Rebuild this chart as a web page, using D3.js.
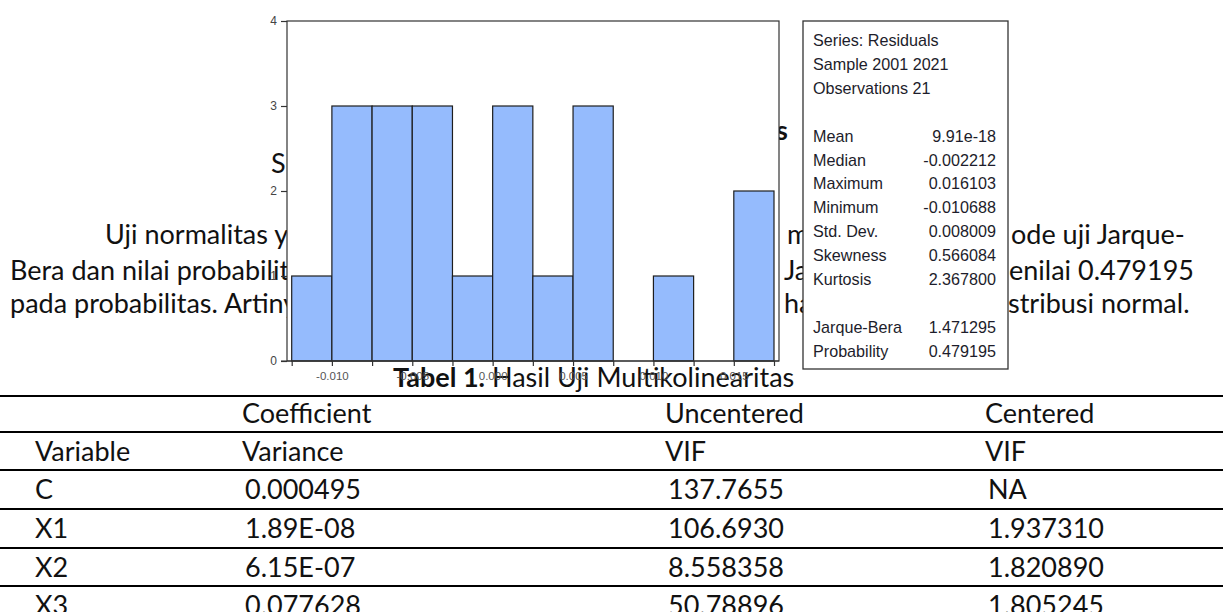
<!DOCTYPE html>
<html>
<head>
<meta charset="utf-8">
<script src="https://cdn.jsdelivr.net/npm/d3@7"></script>
<style>
  html, body { margin: 0; padding: 0; background: #fff; }
  svg { display: block; }
</style>
</head>
<body>
<svg id="page" width="1223" height="612"></svg>
<script>
// ---- histogram of residuals ----
const binLower = [-0.0125, -0.0100, -0.0075, -0.0050, -0.0025, 0.0000, 0.0025, 0.0050, 0.0075, 0.0100, 0.0125, 0.0150];
const binWidth = 0.0025;
const binCounts = [1, 3, 3, 3, 1, 3, 1, 3, 0, 1, 0, 2];
const xEdgeTicks = [-0.0125, -0.0100, -0.0075, -0.0050, -0.0025, 0.0000, 0.0025, 0.0050, 0.0075, 0.0100, 0.0125, 0.0150, 0.0175];
const xLabelTicks = [-0.010, -0.005, 0.000, 0.005, 0.010, 0.015];
const yTicks = [0, 1, 2, 3, 4];

// ---- descriptive statistics panel ----
const statNames = ["Series: Residuals", "Sample 2001 2021", "Observations 21", "",
  "Mean", "Median", "Maximum", "Minimum", "Std. Dev.", "Skewness", "Kurtosis", "",
  "Jarque-Bera", "Probability"];
const statValues = ["", "", "", "",
  "9.91e-18", "-0.002212", "0.016103", "-0.010688", "0.008009", "0.566084", "2.367800", "",
  "1.471295", "0.479195"];

// ---- multicollinearity table ----
const headRow1 = ["", "Coefficient", "Uncentered", "Centered"];
const headRow2 = ["Variable", "Variance", "VIF", "VIF"];
const variables = ["C", "X1", "X2", "X3"];
const coefVariance = ["0.000495", "1.89E-08", "6.15E-07", "0.077628"];
const uncenteredVIF = ["137.7655", "106.6930", "8.558358", "50.78896"];
const centeredVIF = ["NA", "1.937310", "1.820890", "1.805245"];

const svg = d3.select("#page");
const docFont = "Lato, 'Open Sans', sans-serif";
const docSize = 27;

// ---- body text of the page (lies underneath the pasted chart) ----
const textLayer = svg.append("g").attr("font-family", docFont).attr("font-size", docSize).attr("fill", "#111");
const fragments = [
  { t: "Hasil Uji Normalitas", x: 788, y: 140, a: "end", w: "bold" },
  { t: "Sumber: Output EViews", x: 271, y: 173, a: "start" },
  { t: "Uji normalitas yang dilakukan", x: 105, y: 244, a: "start" },
  { t: "menggunakan", x: 787, y: 244, a: "start" },
  { t: "ode uji Jarque-", x: 1011, y: 244, a: "start" },
  { t: "Bera dan nilai probabilitas", x: 10, y: 280, a: "start" },
  { t: "Jarque", x: 784, y: 280, a: "start" },
  { t: "enilai 0.479195", x: 1009, y: 280, a: "start" },
  { t: "pada probabilitas. Artinya", x: 10, y: 313, a: "start" },
  { t: "hal ini", x: 784, y: 313, a: "start" },
  { t: "stribusi normal.", x: 1008, y: 313, a: "start" }
];
textLayer.selectAll("text").data(fragments).join("text")
  .attr("x", d => d.x).attr("y", d => d.y)
  .attr("text-anchor", d => d.a)
  .attr("font-weight", d => d.w || "normal")
  .text(d => d.t);

// caption
const cap = svg.append("text").attr("x", 393).attr("y", 387)
  .attr("font-family", docFont).attr("font-size", docSize).attr("fill", "#111");
cap.append("tspan").attr("font-weight", "bold").text("Tabel 1.");
cap.append("tspan").text(" Hasil Uji Multikolinearitas");

// ---- table ----
const tableRows = [headRow1, headRow2].concat(variables.map((v, i) => [v, coefVariance[i], uncenteredVIF[i], centeredVIF[i]]));
const rowY = d3.scaleLinear().domain([0, 1]).range([423, 461]);
const ruleY = [396, 432, 470, 509, 548, 586];
const colX = [35, 242, 665, 985];
const valueShift = [0, 3, 3, 3];

svg.append("g").selectAll("line").data(ruleY).join("line")
  .attr("x1", 0).attr("x2", 1223)
  .attr("y1", d => d).attr("y2", d => d)
  .attr("stroke", "#000").attr("stroke-width", 2);

const rowsG = svg.append("g").attr("font-family", docFont).attr("font-size", docSize).attr("fill", "#111");
tableRows.forEach((row, r) => {
  rowsG.selectAll(null).data(row).join("text")
    .attr("x", (d, c) => colX[c] + (r >= 2 ? valueShift[c] : 0))
    .attr("y", rowY(r) + (r >= 2 ? r - 2 : 0) * 0.8)
    .text(d => d);
});

// ---- the EViews histogram (transparent outside the plot area) ----
const x = d3.scaleLinear().domain([-0.0125, 0.0175]).range([291.7, 774]);
const y = d3.scaleLinear().domain([0, 4]).range([361, 21]);
const plotL = 287, plotR = 779, plotT = 21, plotB = 361;

const chart = svg.append("g");
chart.append("rect").attr("x", plotL).attr("y", plotT)
  .attr("width", plotR - plotL).attr("height", plotB - plotT).attr("fill", "#fff");

chart.append("g").selectAll("rect").data(binLower).join("rect")
  .attr("x", d => x(d))
  .attr("width", d => x(d + binWidth) - x(d))
  .attr("y", (d, i) => y(binCounts[i]))
  .attr("height", (d, i) => y(0) - y(binCounts[i]))
  .attr("fill", "#95bbfd")
  .attr("stroke", "#1e1e1e").attr("stroke-width", 1.2)
  .style("display", (d, i) => binCounts[i] > 0 ? null : "none");

// frame
chart.append("rect").attr("x", plotL).attr("y", plotT)
  .attr("width", plotR - plotL).attr("height", plotB - plotT)
  .attr("fill", "none").attr("stroke", "#333").attr("stroke-width", 1.2);

const fmt = d3.formatLocale({ decimal: ".", thousands: ",", grouping: [3], currency: ["", ""], minus: "-" }).format(".3f");

// y axis
const yAxis = d3.axisLeft(y).tickValues(yTicks).tickSize(6).tickPadding(4).tickFormat(d3.format("d"));
chart.append("g").attr("transform", `translate(${plotL},0)`).call(yAxis)
  .call(g => g.select(".domain").remove())
  .call(g => g.selectAll("line").attr("stroke", "#333").attr("stroke-width", 1.2))
  .call(g => g.selectAll("text").attr("font-family", "'Liberation Sans', Arial, sans-serif")
    .attr("font-size", 12).attr("fill", "#444"));

// x axis: a tick at every bin edge, labels every 0.005
const xAxis = d3.axisBottom(x).tickValues(xEdgeTicks).tickSize(5).tickPadding(6)
  .tickFormat(d => xLabelTicks.some(v => Math.abs(v - d) < 1e-9) ? fmt(d) : "");
chart.append("g").attr("transform", `translate(0,${plotB})`).call(xAxis)
  .call(g => g.select(".domain").remove())
  .call(g => g.selectAll("line").attr("stroke", "#333").attr("stroke-width", 1.2))
  .call(g => g.selectAll("text").attr("font-family", "'Liberation Sans', Arial, sans-serif")
    .attr("font-size", 11.5).attr("fill", "#555"));
chart.append("line").attr("x1", plotL - 6).attr("x2", plotR).attr("y1", plotB).attr("y2", plotB)
  .attr("stroke", "#333").attr("stroke-width", 1.2);

// ---- statistics panel ----
const boxL = 803, boxR = 1008, boxT = 21, boxB = 369;
const panel = svg.append("g");
panel.append("rect").attr("x", boxL).attr("y", boxT)
  .attr("width", boxR - boxL).attr("height", boxB - boxT)
  .attr("fill", "#fff").attr("stroke", "#333").attr("stroke-width", 1.3);

const rowScale = d3.scaleLinear().domain([0, statNames.length - 1]).range([46, 356.7]);
const sx = 0.95;
const statG = panel.append("g").attr("font-family", "'Liberation Sans', Arial, sans-serif")
  .attr("font-size", 17).attr("fill", "#1d1d2b");
statG.selectAll("text.n").data(statNames).join("text").attr("class", "n")
  .attr("transform", (d, i) => `translate(813,${rowScale(i)}) scale(${sx},1)`)
  .text(d => d);
statG.selectAll("text.v").data(statValues).join("text").attr("class", "v")
  .attr("text-anchor", "end")
  .attr("transform", (d, i) => `translate(996,${rowScale(i)}) scale(${sx},1)`)
  .text(d => d);
</script>
</body>
</html>
